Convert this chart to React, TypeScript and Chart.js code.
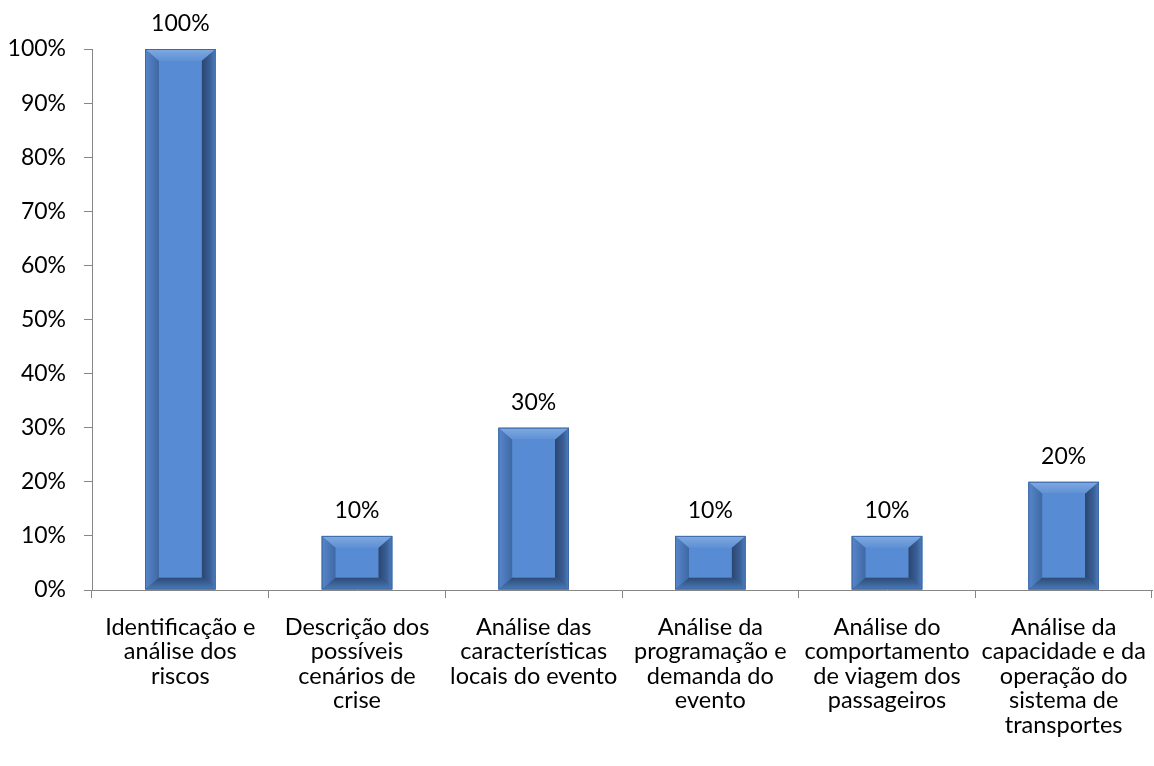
import React, { useEffect, useRef } from "react";
import { Chart, registerables } from "chart.js";

Chart.register(...registerables);

const categories: string[][] = [
  ["Identificação e", "análise dos", "riscos"],
  ["Descrição dos", "possíveis", "cenários de", "crise"],
  ["Análise das", "características", "locais do evento"],
  ["Análise da", "programação e", "demanda do", "evento"],
  ["Análise do", "comportamento", "de viagem dos", "passageiros"],
  ["Análise da", "capacidade e da", "operação do", "sistema de", "transportes"],
];
const values: number[] = [100, 10, 30, 10, 10, 20];
const valueLabels: string[] = ["100%", "10%", "30%", "10%", "10%", "20%"];

const FONT = "Lato, 'Open Sans', sans-serif";

const bevelPlugin = {
  id: "bevelBars",
  afterDatasetsDraw(chart: any) {
    const ctx = chart.ctx;
    const meta = chart.getDatasetMeta(0);
    meta.data.forEach((bar: any, i: number) => {
      const { x, y, base, width } = bar.getProps(["x", "y", "base", "width"], true);
      const l = x - width / 2;
      const r = x + width / 2;
      const t = y;
      const b = base;
      const h = b - t;
      const bw = Math.min(14, width / 4);
      const bh = Math.min(12, h / 4);
      ctx.save();
      ctx.fillStyle = "#4F81BD";
      ctx.fillRect(l, t, width, h);
      const poly = (pts: number[][], fill: any) => {
        ctx.beginPath();
        ctx.moveTo(pts[0][0], pts[0][1]);
        for (let k = 1; k < pts.length; k++) ctx.lineTo(pts[k][0], pts[k][1]);
        ctx.closePath();
        ctx.fillStyle = fill;
        ctx.fill();
      };
      let g = ctx.createLinearGradient(0, t, 0, t + bh);
      g.addColorStop(0, "#80AAE2");
      g.addColorStop(1, "#5E90D4");
      poly([[l, t], [r, t], [r - bw, t + bh], [l + bw, t + bh]], g);
      g = ctx.createLinearGradient(l, 0, l + bw, 0);
      g.addColorStop(0, "#5787CC");
      g.addColorStop(1, "#3F68A3");
      poly([[l, t], [l + bw, t + bh], [l + bw, b - bh], [l, b]], g);
      g = ctx.createLinearGradient(r - bw, 0, r, 0);
      g.addColorStop(0, "#2A4670");
      g.addColorStop(0.6, "#3A5F96");
      g.addColorStop(1, "#4E7FC0");
      poly([[r, t], [r, b], [r - bw, b - bh], [r - bw, t + bh]], g);
      g = ctx.createLinearGradient(0, b - bh, 0, b);
      g.addColorStop(0, "#2C4A76");
      g.addColorStop(1, "#4A7AB8");
      poly([[l, b], [r, b], [r - bw, b - bh], [l + bw, b - bh]], g);
      ctx.fillStyle = "#578BD3";
      ctx.fillRect(l + bw, t + bh, width - 2 * bw, h - 2 * bh);
      ctx.strokeStyle = "#3D6AA6";
      ctx.lineWidth = 1;
      ctx.strokeRect(l + 0.5, t + 0.5, width - 1, h - 1);
      ctx.fillStyle = "#000";
      ctx.font = `23px ${FONT}`;
      ctx.textAlign = "center";
      ctx.textBaseline = "middle";
      ctx.fillText(valueLabels[i], x, t - 25);
      ctx.restore();
    });
  },
};

export default function App() {
  const ref = useRef<HTMLCanvasElement>(null);
  useEffect(() => {
    document.body.style.margin = "0";
    const chart = new Chart(ref.current!, {
      type: "bar",
      data: {
        labels: categories,
        datasets: [
          {
            data: values,
            backgroundColor: "rgba(0,0,0,0)",
            borderWidth: 0,
            categoryPercentage: 1,
            barPercentage: 0.4,
          },
        ],
      },
      options: {
        animation: false,
        responsive: false,
        layout: { padding: { top: 49, right: 2, left: 0, bottom: 0 } },
        plugins: { legend: { display: false }, tooltip: { enabled: false } },
        scales: {
          x: {
            grid: { offset: true, drawOnChartArea: false, tickLength: 8, color: "#868686" },
            border: { color: "#868686", width: 1 },
            ticks: {
              color: "#000",
              font: { family: FONT, size: 23.5, lineHeight: 1.04 },
              maxRotation: 0,
              autoSkip: false,
              padding: 17,
            },
            afterFit: (s: any) => {
              s.height = 176;
              s.paddingLeft = 0;
              s.paddingRight = 0;
            },
          },
          y: {
            min: 0,
            max: 100,
            grid: { drawOnChartArea: false, tickLength: 8, color: "#868686" },
            border: { color: "#868686", width: 1 },
            ticks: {
              stepSize: 10,
              color: "#000",
              font: { family: FONT, size: 23 },
              padding: 18,
              callback: (v: any) => `${v}%`,
            },
            afterFit: (s: any) => {
              s.width = 92;
            },
          },
        },
      },
      plugins: [bevelPlugin],
    });
    return () => chart.destroy();
  }, []);
  return <canvas ref={ref} width={1154} height={766} style={{ display: "block" }} />;
}
